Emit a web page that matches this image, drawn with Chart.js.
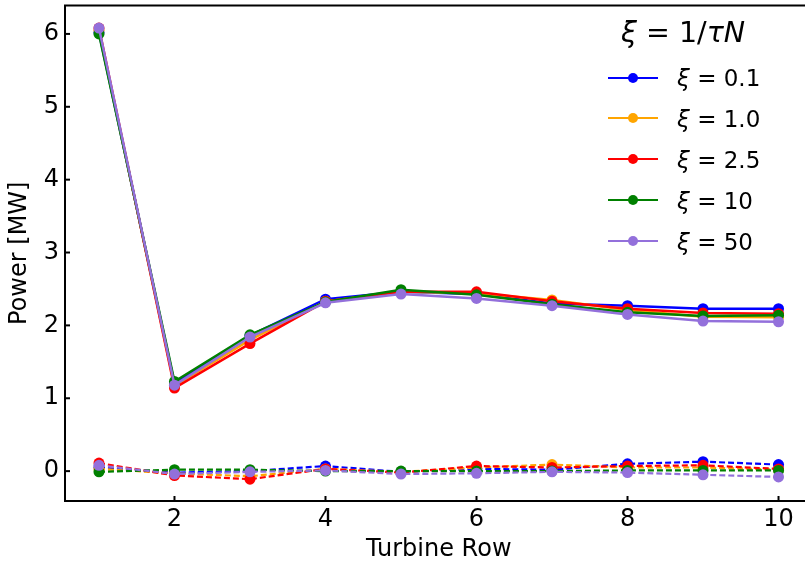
<!DOCTYPE html>
<html>
<head>
<meta charset="utf-8">
<script src="https://cdn.jsdelivr.net/npm/chart.js@4"></script>
<style>
  html, body { margin:0; padding:0; background:#fff; overflow:hidden; width:805px; height:564px; }
  #wrap { position:relative; width:818px; height:564px; }
  canvas { position:absolute; left:0; top:0; }
  #legend { position:absolute; left:0; top:0; width:805px; height:564px; pointer-events:none;
            font-family:"DejaVu Sans", sans-serif; color:#000; }
  .ltitle { position:absolute; font-size:28.5px; line-height:28.5px; white-space:nowrap; }
  .ltext { position:absolute; font-size:23px; line-height:23px; white-space:nowrap; }
  .lline { position:absolute; height:2px; }
  .ldot { position:absolute; width:10px; height:10px; border-radius:50%; }
  i { font-style: oblique; }
</style>
</head>
<body>
<div id="wrap">
  <canvas id="c" width="818" height="564"></canvas>
  <div id="legend"></div>
</div>
<script>
// ---- data ----
const turbineRows = [1, 2, 3, 4, 5, 6, 7, 8, 9, 10];
const xiLabels = ["0.1", "1.0", "2.5", "10", "50"];
const seriesColors = ["#0000ff", "#ffa500", "#ff0000", "#008000", "#9370db"];

const powerXi01  = [6.02, 1.20, 1.86, 2.36, 2.46, 2.43, 2.30, 2.27, 2.23, 2.23];
const powerXi1   = [6.05, 1.17, 1.80, 2.33, 2.46, 2.44, 2.35, 2.21, 2.12, 2.11];
const powerXi25  = [6.08, 1.14, 1.75, 2.33, 2.46, 2.46, 2.33, 2.23, 2.17, 2.16];
const powerXi10  = [6.00, 1.23, 1.87, 2.32, 2.49, 2.42, 2.29, 2.18, 2.13, 2.14];
const powerXi50  = [6.08, 1.18, 1.84, 2.31, 2.43, 2.37, 2.27, 2.15, 2.06, 2.05];

const lowXi01 = [0.05, -0.02, 0.00, 0.07, -0.01, 0.03, 0.02, 0.10, 0.13, 0.09];
const lowXi1  = [0.03, -0.03, -0.07, 0.03, -0.01, 0.05, 0.09, 0.05, 0.05, 0.02];
const lowXi25 = [0.11, -0.06, -0.11, 0.03, -0.02, 0.07, 0.05, 0.07, 0.08, 0.03];
const lowXi10 = [-0.01, 0.02, 0.02, 0.00, 0.00, 0.00, 0.00, 0.01, 0.01, 0.01];
const lowXi50 = [0.08, -0.04, -0.01, 0.01, -0.04, -0.03, -0.01, -0.02, -0.05, -0.08];

const xTicks = [2, 4, 6, 8, 10];
const yTicks = [0, 1, 2, 3, 4, 5, 6];

const solidSeries = [powerXi01, powerXi1, powerXi25, powerXi10, powerXi50];
const dashedSeries = [lowXi01, lowXi1, lowXi25, lowXi10, lowXi50];

// ---- datasets ----
const datasets = [];
solidSeries.forEach((vals, i) => {
  const pts = turbineRows.map((r, k) => ({x: r, y: vals[k]}));
  datasets.push({
    label: "ξ = " + xiLabels[i], data: pts,
    borderColor: seriesColors[i], backgroundColor: seriesColors[i],
    pointBackgroundColor: seriesColors[i], pointBorderWidth: 0, pointRadius: 5.5,
    borderWidth: 2.5, fill: false, tension: 0, order: 10 - i
  });
});
dashedSeries.forEach((vals, i) => {
  const pts = turbineRows.map((r, k) => ({x: r, y: vals[k]}));
  datasets.push({
    label: "_low " + xiLabels[i], data: pts,
    borderColor: seriesColors[i], backgroundColor: seriesColors[i],
    pointBackgroundColor: seriesColors[i], pointBorderWidth: 0, pointRadius: 5.5,
    borderWidth: 2.2, borderDash: [6, 3], fill: false, tension: 0, order: 5 - i
  });
});

const FONT = "DejaVu Sans";

const frame = {
  id: 'frame',
  afterDraw(chart) {
    const {ctx, chartArea: a, scales: {x, y}} = chart;
    ctx.save();
    ctx.strokeStyle = '#000';
    ctx.lineWidth = 2;
    xTicks.forEach(v => {
      const px = x.getPixelForValue(v);
      ctx.beginPath(); ctx.moveTo(px, a.bottom); ctx.lineTo(px, a.bottom - 5); ctx.stroke();
    });
    yTicks.forEach(v => {
      const py = y.getPixelForValue(v);
      ctx.beginPath(); ctx.moveTo(a.left, py); ctx.lineTo(a.left + 5, py); ctx.stroke();
    });
    ctx.strokeRect(a.left, a.top, a.right - a.left, a.bottom - a.top);
    ctx.restore();
  }
};

new Chart(document.getElementById('c'), {
  type: 'line',
  data: { datasets },
  options: {
    responsive: false, animation: false, devicePixelRatio: 1,
    layout: { padding: { top: 5, right: 0, left: 0, bottom: 0 } },
    plugins: { legend: { display: false }, tooltip: { enabled: false } },
    scales: {
      x: {
        type: 'linear', min: 0.55, max: 10.45,
        grid: { display: false, drawTicks: false }, border: { display: false },
        afterBuildTicks: a => { a.ticks = xTicks.map(v => ({value: v})); },
        afterFit: a => { a.height = 63; a.paddingLeft = 0; a.paddingRight = 0; },
        ticks: { font: { family: FONT, size: 24 }, color: '#000', padding: 4, maxRotation: 0, autoSkip: false },
        title: { display: true, text: 'Turbine Row', font: { family: FONT, size: 24 }, color: '#000', padding: { top: 0, bottom: 0 } }
      },
      y: {
        type: 'linear', min: -0.41, max: 6.39,
        grid: { display: false, drawTicks: false }, border: { display: false },
        afterBuildTicks: a => { a.ticks = yTicks.map(v => ({value: v})); },
        afterFit: a => { a.width = 65; a.paddingTop = 0; a.paddingBottom = 0; },
        ticks: { font: { family: FONT, size: 24 }, color: '#000', padding: 6, autoSkip: false },
        title: { display: true, text: 'Power [MW]', font: { family: FONT, size: 24 }, color: '#000', padding: { top: 5, bottom: 0 } }
      }
    }
  },
  plugins: [frame]
});

// ---- legend (HTML, built from the arrays) ----
const lg = document.getElementById('legend');
const t = document.createElement('div');
t.className = 'ltitle';
t.innerHTML = '<i>ξ</i> = 1/<i>τN</i>';
t.style.left = '621px';
t.style.top = '19px';
lg.appendChild(t);
xiLabels.forEach((lab, i) => {
  const cy = 77.5 + i * 40.8;
  const line = document.createElement('div');
  line.className = 'lline';
  line.style.left = '608px'; line.style.width = '50px';
  line.style.top = (cy - 1) + 'px'; line.style.background = seriesColors[i];
  lg.appendChild(line);
  const dot = document.createElement('div');
  dot.className = 'ldot';
  dot.style.left = '628px'; dot.style.top = (cy - 5) + 'px'; dot.style.background = seriesColors[i];
  lg.appendChild(dot);
  const tx = document.createElement('div');
  tx.className = 'ltext';
  tx.innerHTML = '<i>ξ</i> = ' + lab;
  tx.style.left = '677px';
  tx.style.top = (86.7 + i * 40.8 - 19.4) + 'px';
  lg.appendChild(tx);
});
</script>
</body>
</html>
